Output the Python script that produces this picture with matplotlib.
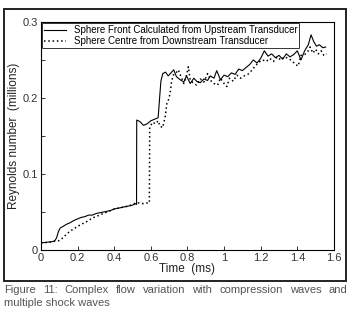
import matplotlib
matplotlib.use("Agg")
import matplotlib.pyplot as plt
from matplotlib.patches import Rectangle

plt.rcParams["font.family"] = ["Liberation Sans", "DejaVu Sans"]

# Sphere front (calculated from upstream transducer)
front_t = [0.0, 0.02, 0.04, 0.06, 0.075, 0.085, 0.095, 0.105, 0.12, 0.14,
           0.16, 0.18, 0.20, 0.22, 0.24, 0.26, 0.28, 0.30, 0.32, 0.34,
           0.36, 0.38, 0.40, 0.42, 0.44, 0.46, 0.48, 0.50, 0.515, 0.522,
           0.523, 0.54, 0.56, 0.58, 0.60, 0.62, 0.64, 0.648, 0.655, 0.665,
           0.68, 0.695, 0.71, 0.725, 0.74, 0.76, 0.78, 0.795, 0.815, 0.835,
           0.85, 0.87, 0.89, 0.91, 0.925, 0.945, 0.96, 0.98, 1.0, 1.02,
           1.04, 1.06, 1.08, 1.10, 1.12, 1.14, 1.16, 1.18, 1.20, 1.22,
           1.24, 1.26, 1.28, 1.30, 1.32, 1.34, 1.36, 1.38, 1.40, 1.42,
           1.44, 1.46, 1.475, 1.49, 1.505, 1.52, 1.54, 1.555]
front_re = [0.0095, 0.010, 0.0105, 0.011, 0.012, 0.016, 0.024, 0.029, 0.031, 0.034,
            0.036, 0.039, 0.041, 0.043, 0.044, 0.046, 0.046, 0.048, 0.049, 0.050,
            0.051, 0.052, 0.054, 0.055, 0.056, 0.057, 0.058, 0.059, 0.061, 0.060,
            0.171, 0.169, 0.164, 0.166, 0.170, 0.172, 0.174, 0.200, 0.222, 0.232,
            0.234, 0.229, 0.233, 0.237, 0.228, 0.224, 0.221, 0.229, 0.219, 0.226,
            0.222, 0.220, 0.225, 0.223, 0.229, 0.226, 0.236, 0.224, 0.230, 0.228,
            0.233, 0.231, 0.238, 0.236, 0.240, 0.244, 0.250, 0.246, 0.252, 0.262,
            0.255, 0.258, 0.253, 0.256, 0.251, 0.258, 0.254, 0.257, 0.262, 0.250,
            0.262, 0.270, 0.283, 0.274, 0.268, 0.270, 0.266, 0.267]

# Sphere centre (from downstream transducer)
centre_t = [0.0, 0.03, 0.06, 0.08, 0.10, 0.12, 0.14, 0.16, 0.18, 0.20,
            0.22, 0.24, 0.26, 0.28, 0.30, 0.32, 0.34, 0.36, 0.38, 0.40,
            0.42, 0.44, 0.46, 0.48, 0.50, 0.52, 0.54, 0.56, 0.58, 0.592,
            0.594, 0.61, 0.625, 0.64, 0.65, 0.665, 0.678, 0.688, 0.697, 0.705,
            0.713, 0.722, 0.735, 0.75, 0.765, 0.78, 0.795, 0.805, 0.815, 0.83,
            0.85, 0.87, 0.89, 0.91, 0.93, 0.945, 0.965, 0.98, 1.0, 1.015,
            1.03, 1.05, 1.07, 1.09, 1.11, 1.13, 1.15, 1.17, 1.19, 1.21,
            1.23, 1.25, 1.27, 1.29, 1.31, 1.33, 1.35, 1.37, 1.39, 1.405,
            1.42, 1.44, 1.46, 1.47, 1.485, 1.50, 1.515, 1.53, 1.545, 1.56]
centre_re = [0.0095, 0.010, 0.011, 0.012, 0.0125, 0.016, 0.021, 0.025, 0.028, 0.031,
             0.034, 0.036, 0.039, 0.042, 0.044, 0.046, 0.048, 0.050, 0.052, 0.054,
             0.055, 0.056, 0.057, 0.058, 0.060, 0.062, 0.062, 0.061, 0.062, 0.062,
             0.162, 0.168, 0.166, 0.170, 0.163, 0.161, 0.175, 0.193, 0.198, 0.206,
             0.221, 0.230, 0.232, 0.237, 0.228, 0.219, 0.230, 0.241, 0.224, 0.220,
             0.217, 0.225, 0.221, 0.232, 0.222, 0.219, 0.217, 0.226, 0.219, 0.215,
             0.226, 0.222, 0.230, 0.226, 0.229, 0.231, 0.236, 0.242, 0.247, 0.250,
             0.248, 0.252, 0.248, 0.254, 0.250, 0.254, 0.252, 0.249, 0.244, 0.242,
             0.256, 0.257, 0.262, 0.267, 0.259, 0.264, 0.258, 0.262, 0.256, 0.258]

x_ticks = [0, 0.2, 0.4, 0.6, 0.8, 1.0, 1.2, 1.4, 1.6]
x_labels = ["0", "0.2", "0.4", "0.6", "0.8", "1", "1.2", "1.4", "1.6"]
y_ticks = [0, 0.05, 0.1, 0.15, 0.2, 0.25, 0.3]
y_labels = ["0", "", "0.1", "", "0.2", "", "0.3"]

caption_1 = "Figure 11: Complex flow variation with compression waves and"
caption_2 = "multiple shock waves"

fig = plt.figure(figsize=(3.53, 3.13), dpi=100)
ax = fig.add_axes([0.116, 0.201, 0.830, 0.729])

ax.plot(front_t, front_re, color="black", linewidth=0.8,
        label="Sphere Front Calculated from Upstream Transducer")
ax.plot(centre_t, centre_re, color="black", linewidth=1.1,
        linestyle=(0, (1, 1.8)),
        label="Sphere Centre from Downstream Transducer")

ax.set_xlim(0, 1.6)
ax.set_ylim(0, 0.3)
ax.set_xticks(x_ticks)
ax.set_xticklabels(x_labels)
ax.set_yticks(y_ticks)
ax.set_yticklabels(y_labels)
ax.tick_params(direction="in", length=3, width=0.7, labelsize=8,
               colors="#333333", pad=2)
for spine in ax.spines.values():
    spine.set_linewidth(0.8)

ax.set_xlabel("Time  (ms)", fontsize=8.5, labelpad=0, color="#222222")
ax.set_ylabel("Reynolds number  (millions)", fontsize=8.5, labelpad=2,
              color="#222222")

leg = ax.legend(loc="upper left", fontsize=7, frameon=True, fancybox=False,
                edgecolor="black", borderpad=0.2, handlelength=2.2,
                labelspacing=0.1, borderaxespad=0.15, handletextpad=0.8)
leg.get_frame().set_linewidth(0.7)

# outer frame around the figure
fig.patches.append(Rectangle((0.011, 0.102), 0.969, 0.869,
                             transform=fig.transFigure, fill=False,
                             edgecolor="#222222", linewidth=1.4))

# caption, first line justified to the frame width
x_left, x_right = 0.011, 0.983
words = caption_1.split()
fig.canvas.draw()
renderer = fig.canvas.get_renderer()
texts = [fig.text(0, 0.073, w, fontsize=8, color="#555555", va="center")
         for w in words]
widths = [t.get_window_extent(renderer).width / fig.bbox.width for t in texts]
gap = (x_right - x_left - sum(widths)) / (len(words) - 1)
pos = x_left
for t, w in zip(texts, widths):
    t.set_x(pos)
    pos += w + gap
fig.text(x_left, 0.032, caption_2, fontsize=8, color="#555555", va="center")

fig.savefig("out.png", dpi=100)
plt.close(fig)
